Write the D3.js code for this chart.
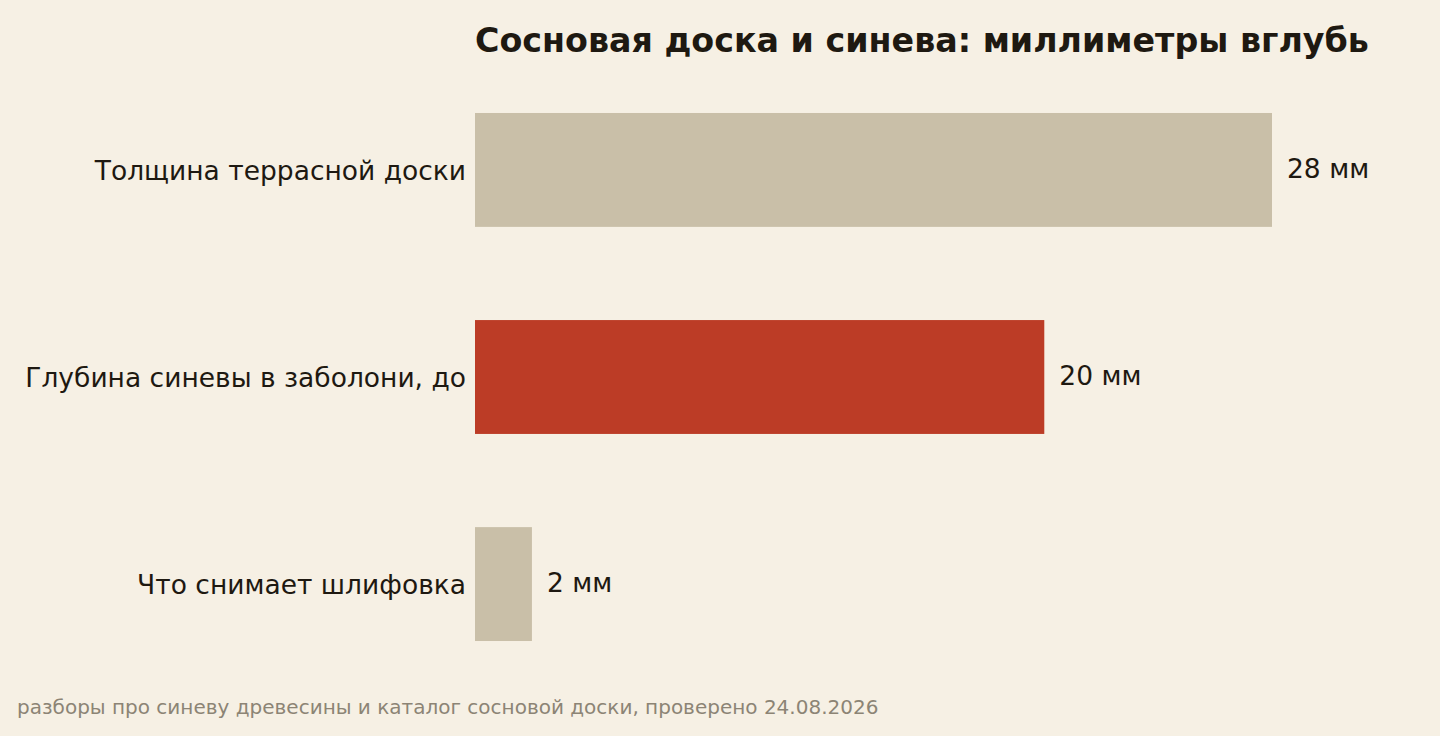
<!DOCTYPE html>
<html><head><meta charset="utf-8">
<script src="https://cdn.jsdelivr.net/npm/d3@7"></script>
<style>
html,body{margin:0;padding:0;background:#f6f0e4;}
svg{display:block;}
text{font-family:"DejaVu Sans",sans-serif;}
</style></head>
<body>
<svg id="chart" width="1440" height="736"></svg>
<script>
const categories = ["Толщина террасной доски", "Глубина синевы в заболони, до", "Что снимает шлифовка"];
const values = [28, 20, 2];
const valueLabels = ["28 мм", "20 мм", "2 мм"];
const highlight = [false, true, false];
const title = "Сосновая доска и синева: миллиметры вглубь";
const source = "разборы про синеву древесины и каталог сосновой доски, проверено 24.08.2026";

const svg = d3.select("#chart");
const W = 1440, H = 736;
const left = 475;

const x = d3.scaleLinear().domain([0, 28]).range([left, 1272]);
const y = d3.scaleBand().domain(categories).range([66.4, 687.6]).paddingInner(0.45).paddingOuter(0.225);

svg.append("rect").attr("width", W).attr("height", H).attr("fill", "#f6f0e4");

svg.append("text").attr("x", left).attr("y", 52)
  .attr("font-size", 33.3).attr("font-weight", "bold").attr("fill", "#1e1911")
  .text(title);

const g = svg.append("g");
categories.forEach((c, i) => {
  g.append("rect").attr("x", x(0)).attr("y", y(c))
    .attr("width", x(values[i]) - x(0)).attr("height", y.bandwidth())
    .attr("fill", highlight[i] ? "#bc3c26" : "#c9bfa8");
  g.append("text").attr("x", left - 9).attr("y", y(c) + y.bandwidth() / 2 + 1)
    .attr("dy", "0.35em").attr("text-anchor", "end")
    .attr("font-size", 26.5).attr("fill", "#1e1911").text(c);
  g.append("text").attr("x", x(values[i]) + 15).attr("y", y(c) + y.bandwidth() / 2 - 1.5)
    .attr("dy", "0.35em")
    .attr("font-size", 26.5).attr("fill", "#1e1911").text(valueLabels[i]);
});

svg.append("text").attr("x", 17).attr("y", 714)
  .attr("font-size", 20).attr("fill", "#8c8475").text(source);
</script>
</body></html>
